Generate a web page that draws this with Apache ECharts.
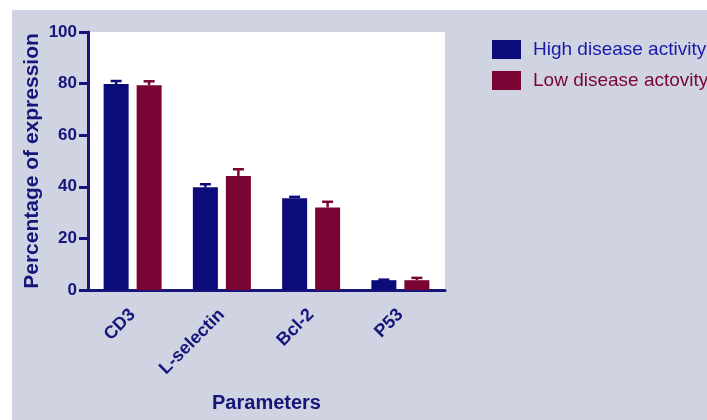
<!DOCTYPE html>
<html>
<head>
<meta charset="utf-8">
<script src="https://cdn.jsdelivr.net/npm/echarts@6/dist/echarts.min.js"></script>
<style>
html,body{margin:0;padding:0;background:#fff;}
#c{width:707px;height:420px;}
</style>
</head>
<body>
<div id="c"></div>
<script>
const categories = ['CD3', 'L-selectin', 'Bcl-2', 'P53'];
const highValues = [79.8, 39.8, 35.6, 3.8];
const highErrors = [1.2, 1.2, 0.5, 0.2];
const lowValues = [79.4, 44.2, 32.0, 3.8];
const lowErrors = [1.5, 2.6, 2.2, 0.9];
const yTicks = [0, 20, 40, 60, 80, 100];
const seriesNames = ['High disease activity', 'Low disease actovity'];

const NAVY = '#15157a';
const BLUE = '#0b0b7a';
const RED = '#7a0535';
const FONT = '"Liberation Sans", Arial, sans-serif';
const BAR_W = 25;
const BAR_GAP = 8;
const HALF = (BAR_W + BAR_GAP) / 2;

function errRender(offset, color) {
  return function (params, api) {
    const i = api.value(0), v = api.value(1), e = api.value(2);
    const base = api.coord([i, v]);
    const top = api.coord([i, v + e]);
    const x = base[0] + offset;
    const style = { stroke: color, lineWidth: 2.5 };
    return {
      type: 'group',
      children: [
        { type: 'line', shape: { x1: x, y1: base[1], x2: x, y2: top[1] }, style },
        { type: 'line', shape: { x1: x - 5.5, y1: top[1], x2: x + 5.5, y2: top[1] }, style }
      ]
    };
  };
}

const chart = echarts.init(document.getElementById('c'), null, { renderer: 'canvas' });
chart.setOption({
  animation: false,
  backgroundColor: '#ffffff',
  textStyle: { fontFamily: FONT },
  graphic: [{
    type: 'rect', z: -10, silent: true,
    shape: { x: 12, y: 10, width: 695, height: 410 },
    style: { fill: '#cfd3e2' }
  }],
  grid: {
    left: 88, right: 262, top: 32, bottom: 130,
    outerBoundsMode: 'none', containLabel: false,
    show: true, backgroundColor: '#ffffff', borderWidth: 0
  },
  legend: {
    orient: 'vertical', left: 492, top: 40, padding: 0,
    itemWidth: 29, itemHeight: 19, itemGap: 12,
    icon: 'rect',
    data: [
      { name: seriesNames[0], textStyle: { color: '#1a1aa8' } },
      { name: seriesNames[1], textStyle: { color: '#7a0535' } }
    ],
    textStyle: { fontSize: 19, fontFamily: FONT, padding: [0, 0, 0, 7] }
  },
  xAxis: {
    type: 'category',
    data: categories,
    name: 'Parameters',
    nameLocation: 'middle',
    nameGap: 103,
    nameMoveOverlap: false,
    nameTextStyle: { fontSize: 20, fontWeight: 'bold', color: NAVY, fontFamily: FONT },
    axisLine: { lineStyle: { color: NAVY, width: 3 } },
    axisTick: { alignWithLabel: true, length: 9, lineStyle: { color: NAVY, width: 3 } },
    axisLabel: { rotate: 45, margin: 22, fontSize: 18, fontWeight: 'bold', color: NAVY, fontFamily: FONT },
    splitLine: { show: false }
  },
  yAxis: {
    type: 'value',
    min: yTicks[0], max: yTicks[yTicks.length - 1], interval: yTicks[1] - yTicks[0],
    name: 'Percentage of expression',
    nameLocation: 'middle',
    nameRotate: 90,
    nameGap: 45,
    nameMoveOverlap: false,
    nameTextStyle: { fontSize: 21, fontWeight: 'bold', color: NAVY, fontFamily: FONT },
    axisLine: { show: true, lineStyle: { color: NAVY, width: 3 } },
    axisTick: { show: true, length: 9, lineStyle: { color: NAVY, width: 3 } },
    axisLabel: { margin: 11, fontSize: 17, fontWeight: 'bold', color: NAVY, fontFamily: FONT },
    splitLine: { show: false }
  },
  series: [
    {
      name: seriesNames[0], type: 'bar', data: highValues,
      barWidth: BAR_W, barGap: (BAR_GAP / BAR_W * 100) + '%',
      itemStyle: { color: BLUE }
    },
    {
      name: seriesNames[1], type: 'bar', data: lowValues,
      barWidth: BAR_W,
      itemStyle: { color: RED }
    },
    {
      name: 'highErr', type: 'custom', z: 3,
      renderItem: errRender(-HALF, BLUE),
      encode: { x: 0, y: 1 },
      data: highValues.map((v, i) => [i, v, highErrors[i]])
    },
    {
      name: 'lowErr', type: 'custom', z: 3,
      renderItem: errRender(HALF, RED),
      encode: { x: 0, y: 1 },
      data: lowValues.map((v, i) => [i, v, lowErrors[i]])
    }
  ]
});
</script>
</body>
</html>
